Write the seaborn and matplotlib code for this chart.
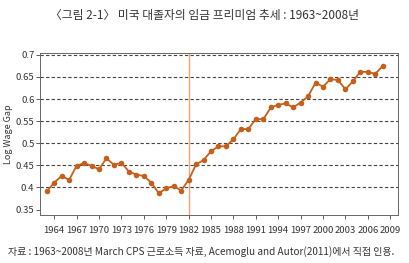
import numpy as np
import pandas as pd
import matplotlib
matplotlib.use('Agg')
import matplotlib.pyplot as plt
import seaborn as sns

# Data
years = list(range(1963, 2009))
wage_gap = [0.391, 0.411, 0.426, 0.417, 0.449, 0.455, 0.449, 0.441, 0.466, 0.451,
            0.456, 0.436, 0.429, 0.426, 0.411, 0.387, 0.398, 0.403, 0.393, 0.417,
            0.452, 0.462, 0.482, 0.493, 0.493, 0.509, 0.532, 0.532, 0.555, 0.554,
            0.581, 0.587, 0.590, 0.581, 0.592, 0.606, 0.637, 0.628, 0.645, 0.643,
            0.622, 0.640, 0.662, 0.661, 0.657, 0.675]
x_ticks = list(range(1964, 2010, 3))
y_ticks = [0.35, 0.4, 0.45, 0.5, 0.55, 0.6, 0.65, 0.7]
y_labels = ['0.35', '0.4', '0.45', '0.5', '0.55', '0.6', '0.65', '0.7']
break_year = 1982

df = pd.DataFrame({'year': years, 'gap': wage_gap})

sns.set_style('white')
plt.rcParams['font.family'] = ['Noto Sans CJK KR', 'DejaVu Sans']

fig = plt.figure(figsize=(4.1, 2.63), dpi=100)
ax = fig.add_axes([0.0976, 0.183, 0.8724, 0.617])

line_color = '#C4601A'

# dashed grid lines (none at the bottom tick)
for v in y_ticks[1:]:
    ax.axhline(v, color='#444444', linestyle=(0, (3, 2)), linewidth=0.8, zorder=1)

ax.axvline(break_year, color='#EBA575', linewidth=1.0, zorder=2)

sns.lineplot(data=df, x='year', y='gap', ax=ax, color=line_color, linewidth=1.3,
             marker='o', markersize=4, markeredgewidth=0, zorder=3)

ax.set_xlim(1962.1, 2010)
ax.set_ylim(0.338, 0.705)
ax.set_xticks(x_ticks)
ax.set_yticks(y_ticks)
ax.set_yticklabels(y_labels)
ax.tick_params(axis='both', labelsize=6.8, length=3, width=0.6, color='#444444',
               labelcolor='#333333', pad=1)
ax.tick_params(axis='x', pad=5)
ax.tick_params(left=True, bottom=True)
ax.set_xlabel('')
ax.set_ylabel('Log Wage Gap', fontsize=6.5, color='#333333', labelpad=2)
for s in ax.spines.values():
    s.set_color('#666666')
    s.set_linewidth(0.7)

fig.text(0.5, 0.943, '〈그림 2-1〉 미국 대졸자의 임금 프리미엄 추세 : 1963~2008년',
         ha='center', va='center', fontsize=8.5, color='#333333')
fig.text(0.02, 0.042, '자료 : 1963~2008년 March CPS 근로소득 자료, Acemoglu and Autor(2011)에서 직접 인용.',
         ha='left', va='center', fontsize=7.2, color='#333333')

fig.savefig('out.png', dpi=100)
